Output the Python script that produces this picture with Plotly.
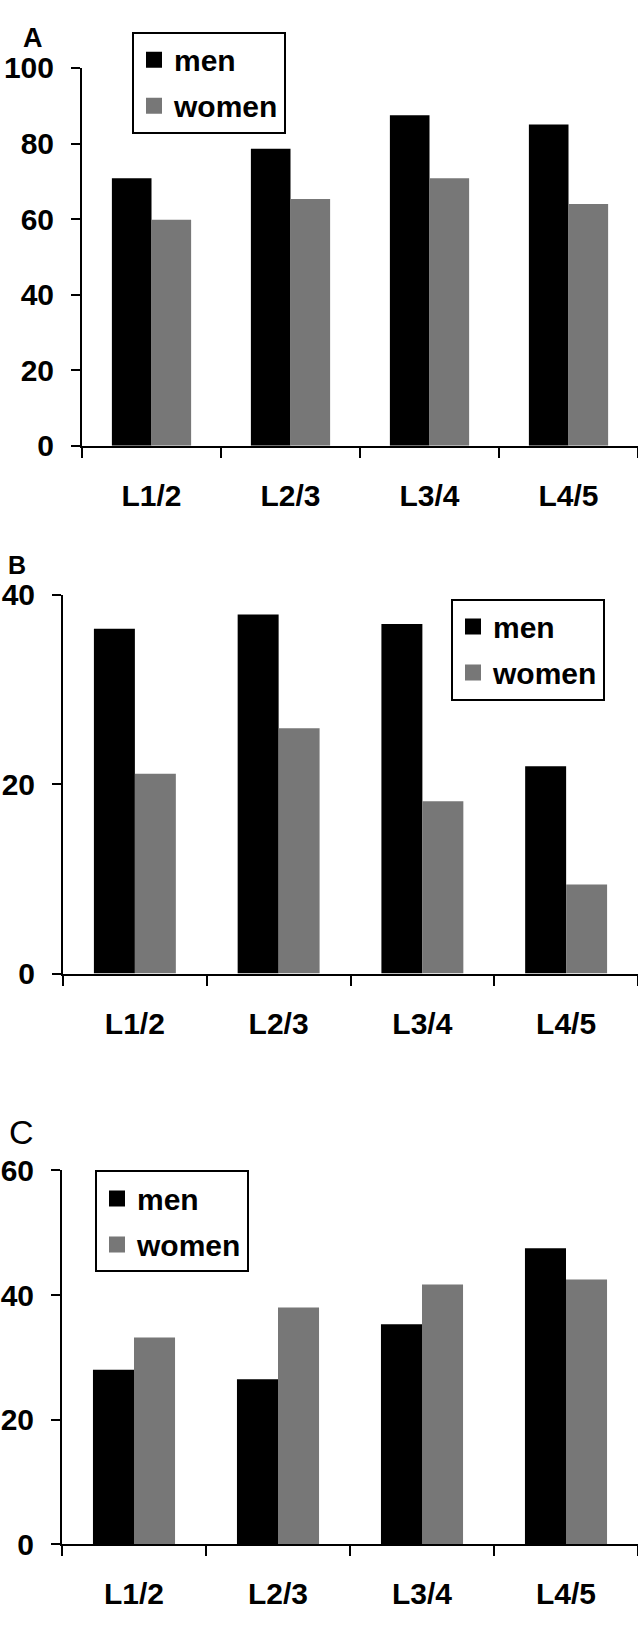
import plotly.graph_objects as go

# Disc levels on the x axis
levels = ["L1/2", "L2/3", "L3/4", "L4/5"]

# Panel A
men_a = [70.8, 78.6, 87.5, 85.0]
women_a = [59.8, 65.3, 70.8, 64.0]
ticks_a = [0, 20, 40, 60, 80, 100]

# Panel B
men_b = [36.4, 37.9, 36.9, 21.9]
women_b = [21.1, 25.9, 18.2, 9.4]
ticks_b = [0, 20, 40]

# Panel C
men_c = [28.0, 26.5, 35.3, 47.5]
women_c = [33.2, 38.0, 41.7, 42.5]
ticks_c = [0, 20, 40, 60]

W, H = 638, 1627
MEN = "#000000"
WOMEN = "#777777"
FONT = "Liberation Sans"


def px_x(v):
    return v / W


def px_y(v):
    return 1 - v / H


# (men, women, ticks, left px, top px, bottom px, legend (left px, top px))
panels = [
    (men_a, women_a, ticks_a, 82, 52, 438, (132, 15)),
    (men_b, women_b, ticks_b, 63, 590, 977, (451, 594)),
    (men_c, women_c, ticks_c, 62, 1178, 1560, (95, 1178)),
]

fig = go.Figure()
layout = {}

for i, (men, women, ticks, left, top, bottom, (lx, ly)) in enumerate(panels, start=1):
    sfx = "" if i == 1 else str(i)
    leg = "legend" if i == 1 else f"legend{i}"
    fig.add_trace(go.Bar(x=levels, y=men, marker=dict(color=MEN, line=dict(width=0)),
                         xaxis=f"x{sfx}", yaxis=f"y{sfx}", showlegend=False,
                         offsetgroup="men"))
    fig.add_trace(go.Bar(x=levels, y=women, marker=dict(color=WOMEN, line=dict(width=0)),
                         xaxis=f"x{sfx}", yaxis=f"y{sfx}", showlegend=False,
                         offsetgroup="women"))
    # legend entries with square swatches
    for name, col in (("men", MEN), ("women", WOMEN)):
        fig.add_trace(go.Scatter(x=[None], y=[None], mode="markers", name=name,
                                 marker=dict(symbol="square", size=16, color=col),
                                 xaxis=f"x{sfx}", yaxis=f"y{sfx}", legend=leg,
                                 legendgroup=f"{name}{i}", showlegend=True))

    layout[f"xaxis{sfx}"] = dict(
        domain=[px_x(left), 1.0], range=[-0.5, 3.5], type="category",
        showline=True, linecolor="black", linewidth=2,
        ticks="outside", tickson="boundaries", ticklen=10, tickwidth=2, tickcolor="black",
        showgrid=False, zeroline=False, anchor=f"y{sfx}",
        tickfont=dict(family=FONT, size=30, color="black", weight="bold"),
        ticklabelstandoff=22, fixedrange=True,
    )
    layout[f"yaxis{sfx}"] = dict(
        domain=[px_y(bottom), px_y(top)], range=[0, ticks[-1]],
        tickvals=ticks, showline=True, linecolor="black", linewidth=2,
        ticks="outside", ticklen=9, tickwidth=2, tickcolor="black",
        showgrid=False, zeroline=False, anchor=f"x{sfx}",
        tickfont=dict(family=FONT, size=30, color="black", weight="bold"),
        ticklabelstandoff=11, fixedrange=True,
    )
    layout[leg] = dict(
        x=px_x(lx), y=px_y(ly), xanchor="left", yanchor="top",
        bordercolor="black", borderwidth=2, bgcolor="white",
        font=dict(family=FONT, size=30, color="black", weight="bold"),
        tracegroupgap=4, itemclick=False, itemdoubleclick=False,
    )

fig.update_layout(
    width=W, height=H,
    margin=dict(l=0, r=0, t=0, b=0),
    paper_bgcolor="white", plot_bgcolor="white",
    barmode="group", bargap=0.43, bargroupgap=0,
    showlegend=True,
    **layout,
)

# Panel letters
fig.add_annotation(text="<b>A</b>", x=px_x(21), y=px_y(21), xref="paper", yref="paper",
                   xanchor="left", yanchor="middle", showarrow=False,
                   font=dict(family=FONT, size=27, color="black"))
fig.add_annotation(text="<b>B</b>", x=px_x(6), y=px_y(560), xref="paper", yref="paper",
                   xanchor="left", yanchor="middle", showarrow=False,
                   font=dict(family=FONT, size=25, color="black"))
fig.add_annotation(text="C", x=px_x(7), y=px_y(1139), xref="paper", yref="paper",
                   xanchor="left", yanchor="middle", showarrow=False,
                   font=dict(family=FONT, size=34, color="black"))

fig.write_html("out.html")
